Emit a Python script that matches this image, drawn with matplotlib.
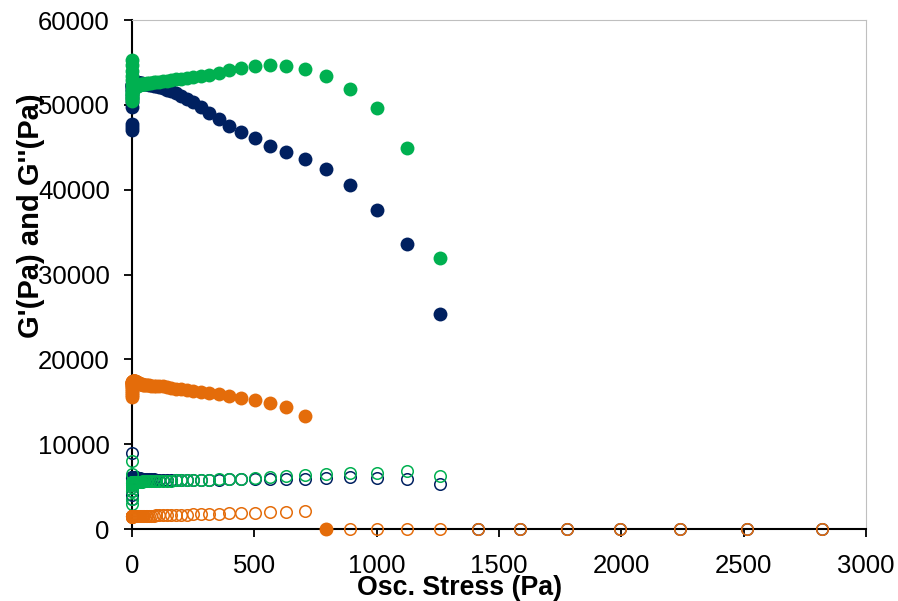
import matplotlib.pyplot as plt

plt.rcParams['font.family'] = ['Liberation Sans', 'DejaVu Sans']

# stress sweep (Pa)
stress = [0.10, 0.13, 0.16, 0.20, 0.25, 0.32, 0.40, 0.50, 0.63, 0.79,
          1.00, 1.26, 1.58, 2.00, 2.51, 3.16, 3.98, 5.01, 6.31, 7.94,
          10.0, 11.2, 12.6, 14.1, 15.8, 17.8, 20.0, 22.4, 25.1, 28.2,
          31.6, 35.5, 39.8, 44.7, 50.1, 56.2, 63.1, 70.8, 79.4, 89.1,
          100, 112, 126, 141, 158, 178, 200, 224, 251, 282,
          316, 355, 398, 447, 501, 562, 631, 708, 794, 891,
          1000, 1122, 1259, 1413, 1585, 1778, 1995, 2239, 2512, 2818]

# storage modulus G' (Pa)
g1_a = [47000, 47400, 47800, 49800, 50300, 50800, 51200, 51600, 51900, 52100,
        52200, 52300, 52300, 52400, 52400, 52400, 52400, 52500, 52500, 52500,
        52500, 52550, 52600, 52600, 52650, 52650, 52650, 52650, 52600, 52600,
        52600, 52550, 52550, 52500, 52500, 52450, 52400, 52350, 52300, 52250,
        52200, 52100, 51950, 51800, 51600, 51400, 51100, 50700, 50300, 49700,
        49000, 48300, 47500, 46800, 46100, 45200, 44500, 43600, 42400, 40500,
        37600, 33600, 25300]
g1_b = [55300, 54700, 54000, 53400, 52900, 52300, 51800, 51300, 50800, 50500,
        50700, 51000, 51300, 51500, 51700, 51800, 51900, 51950, 52000, 52000,
        52000, 52050, 52100, 52100, 52150, 52200, 52200, 52250, 52300, 52300,
        52350, 52400, 52400, 52450, 52500, 52500, 52550, 52600, 52600, 52650,
        52700, 52750, 52800, 52850, 52900, 53000, 53050, 53150, 53250, 53400,
        53550, 53800, 54100, 54300, 54550, 54650, 54600, 54250, 53450, 51850,
        49600, 44950, 32000]
g1_c = [15600, 15800, 16000, 16300, 16500, 16700, 16900, 17000, 17100, 17200,
        17250, 17300, 17300, 17350, 17350, 17400, 17400, 17400, 17400, 17400,
        17400, 17400, 17400, 17400, 17350, 17350, 17300, 17300, 17250, 17200,
        17150, 17100, 17050, 17000, 17000, 16950, 16950, 16950, 16900, 16900,
        16900, 16850, 16800, 16700, 16650, 16550, 16450, 16350, 16250, 16150,
        16050, 15900, 15700, 15450, 15200, 14900, 14400, 13300, 0]

# loss modulus G'' (Pa)
g2_a = [9000, 4000, 3500, 4500, 5200, 5600, 5800, 5900, 6000, 6000,
        6050, 6050, 6100, 6100, 6100, 6100, 6100, 6100, 6100, 6100,
        6100, 6100, 6100, 6100, 6100, 6050, 6050, 6050, 6000, 6000,
        6000, 5950, 5950, 5950, 5900, 5900, 5900, 5850, 5850, 5850,
        5800, 5800, 5780, 5770, 5760, 5750, 5750, 5750, 5760, 5780,
        5800, 5820, 5850, 5880, 5900, 5930, 5950, 5900, 6050, 6100,
        5980, 5860, 5300, 0, 0, 0, 0, 0, 0, 0]
g2_b = [8000, 6500, 3000, 3500, 4500, 5000, 5200, 5300, 5400, 5400,
        5450, 5450, 5500, 5500, 5500, 5500, 5500, 5500, 5500, 5500,
        5500, 5500, 5500, 5500, 5520, 5520, 5530, 5540, 5550, 5560,
        5570, 5580, 5590, 5600, 5610, 5620, 5630, 5640, 5650, 5660,
        5670, 5680, 5690, 5700, 5710, 5720, 5740, 5760, 5780, 5800,
        5830, 5860, 5900, 5950, 6000, 6100, 6200, 6400, 6500, 6550,
        6650, 6850, 6200]
g2_c = [1450, 1460, 1470, 1480, 1490, 1500, 1500, 1500, 1500, 1500,
        1500, 1500, 1500, 1510, 1510, 1510, 1520, 1520, 1520, 1520,
        1530, 1530, 1530, 1540, 1540, 1540, 1550, 1550, 1550, 1560,
        1560, 1560, 1570, 1570, 1570, 1580, 1580, 1580, 1590, 1590,
        1600, 1610, 1620, 1630, 1650, 1660, 1680, 1700, 1720, 1750,
        1780, 1810, 1850, 1900, 1940, 1990, 2040, 2120, 0, 0,
        0, 0, 0, 0, 0, 0, 0, 0, 0, 0]

navy = '#002060'
green = '#00B050'
orange = '#E46C0A'

fig = plt.figure(figsize=(8.98, 6.01), dpi=100)
ax = fig.add_axes([0.147, 0.1198, 0.8174, 0.8469])

# markers sit on the axes at x=0, so let them spill over the spine
filled = dict(marker='o', ls='none', ms=10, mew=0, zorder=3, clip_on=False)
hollow = dict(marker='o', ls='none', mfc='none', ms=8.3, mew=1.1, zorder=3, clip_on=False)

ax.plot(stress[:len(g1_a)], g1_a, color=navy, **filled)
ax.plot(stress[:len(g1_b)], g1_b, color=green, **filled)
ax.plot(stress[:len(g1_c)], g1_c, color=orange, **filled)
ax.plot(stress[:len(g2_a)], g2_a, mec=navy, **hollow)
ax.plot(stress[:len(g2_b)], g2_b, mec=green, **hollow)
ax.plot(stress[:len(g2_c)], g2_c, mec=orange, **hollow)

ax.set_xlim(0, 3000)
ax.set_ylim(0, 60000)
ax.set_xticks(range(0, 3001, 500))
ax.set_yticks(range(0, 60001, 10000))

for side in ['left', 'bottom']:
    ax.spines[side].set_linewidth(1.5)
    ax.spines[side].set_color('black')
    ax.spines[side].set_zorder(2.5)
for side in ['top', 'right']:
    ax.spines[side].set_linewidth(0.8)
    ax.spines[side].set_color('#BFBFBF')

ax.tick_params(axis='both', direction='out', length=6, width=1.3, labelsize=18.5)
ax.tick_params(axis='x', pad=12)
ax.tick_params(axis='y', pad=10)

fig.text(459.5 / 898, 1 - 588 / 601, 'Osc. Stress (Pa)', fontsize=19.3,
         fontweight='bold', ha='center', va='center')
fig.text(31 / 898, 1 - 216 / 601, "G'(Pa) and G''(Pa)", fontsize=21,
         fontweight='bold', ha='center', va='center', rotation=90)

fig.savefig('out.png', dpi=100)
